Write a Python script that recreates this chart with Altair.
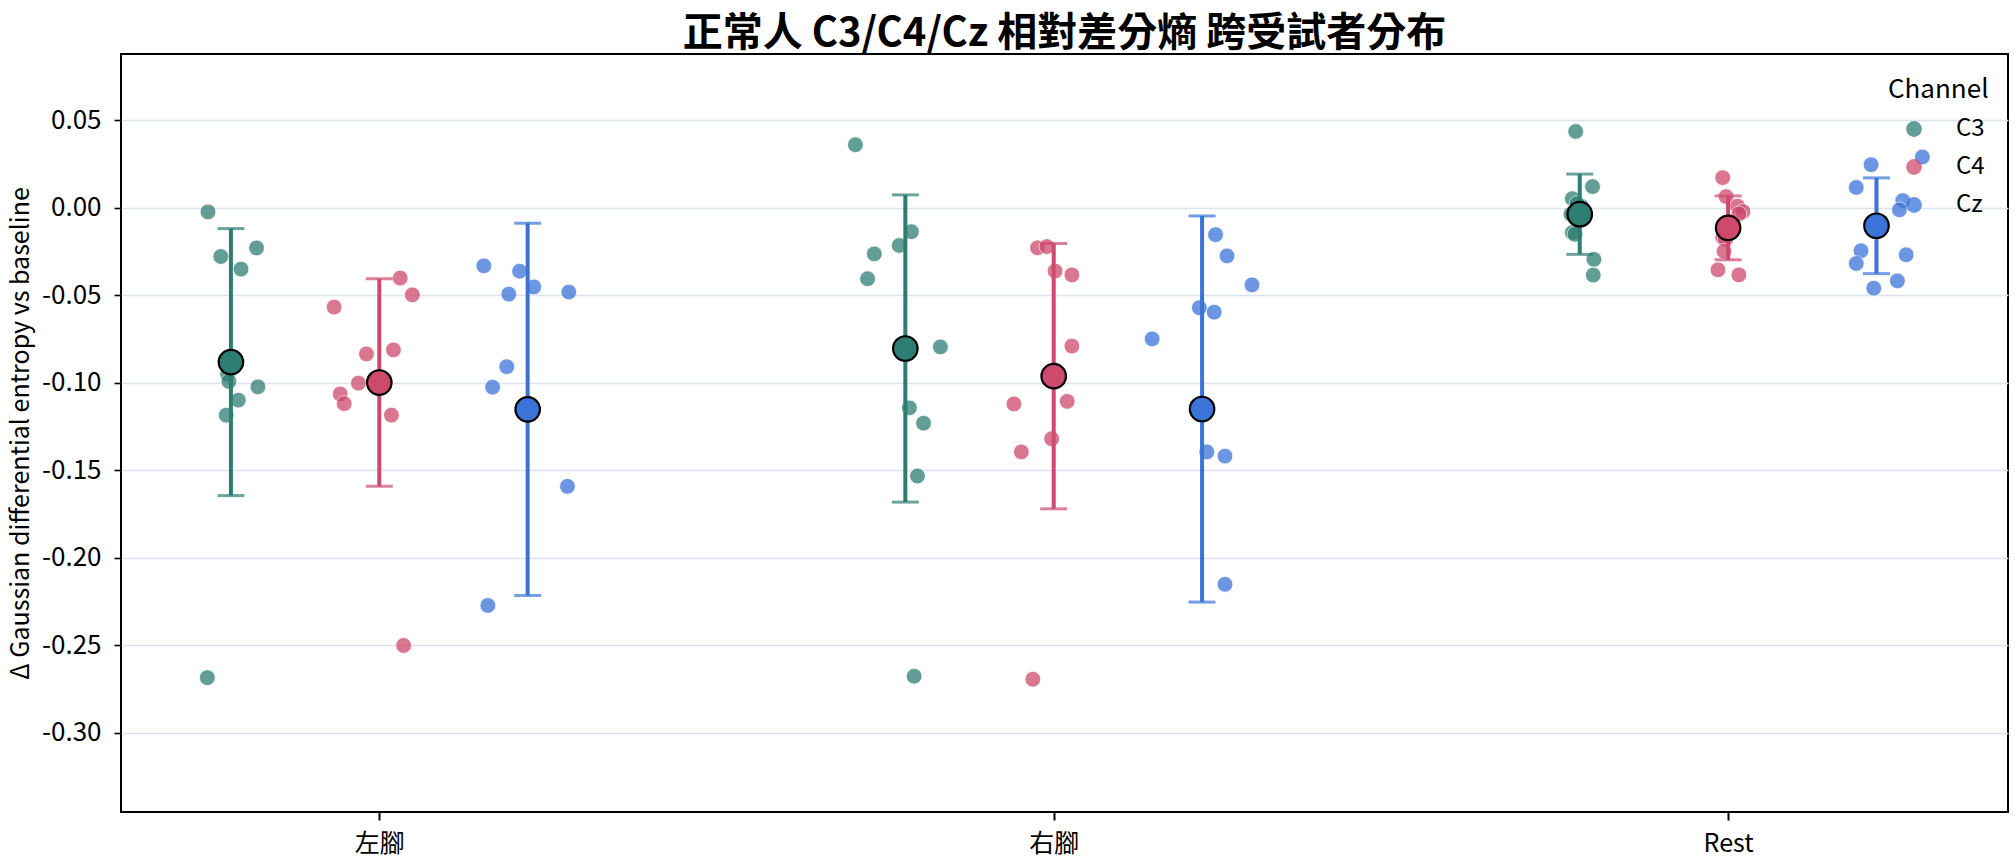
import altair as alt
import pandas as pd

# ---- categories ----
groups = ["左腳", "右腳", "Rest"]
channels = ["C3", "C4", "Cz"]
colors = ["#2e7d73", "#cd4a6d", "#3b74d9"]
chan_offset = [-0.22, 0.0, 0.22]

# ---- per-subject values (Δ differential entropy vs baseline) ----
left_c3 = [-0.0023, -0.0278, -0.0229, -0.0350, -0.0951, -0.0992, -0.1023, -0.1099, -0.1185, -0.2686]
left_c4 = [-0.0567, -0.0401, -0.0497, -0.0835, -0.0812, -0.1002, -0.1064, -0.1119, -0.1185, -0.2502]
left_cz = [-0.0331, -0.0362, -0.0452, -0.0493, -0.0481, -0.0908, -0.1025, -0.1592, -0.2273, -0.3600]
right_c3 = [0.0361, -0.0136, -0.0215, -0.0263, -0.0405, -0.0795, -0.1143, -0.1231, -0.1533, -0.2678]
right_c4 = [-0.0228, -0.0221, -0.0361, -0.0383, -0.0790, -0.1121, -0.1106, -0.1320, -0.1395, -0.2695]
right_cz = [-0.0749, -0.0153, -0.0274, -0.0440, -0.0571, -0.0596, -0.1395, -0.1419, -0.2152, -0.3750]
rest_c3 = [0.0437, 0.0122, 0.0053, -0.0036, -0.0141, -0.0151, -0.0294, -0.0384, 0.0010, 0.0024]
rest_c4 = [0.0173, 0.0065, 0.0010, -0.0021, -0.0034, -0.0168, -0.0180, -0.0248, -0.0354, -0.0383]
rest_cz = [0.0247, 0.0291, 0.0117, 0.0042, -0.0011, -0.0245, -0.0318, -0.0268, -0.0417, -0.0459]

# ---- horizontal jitter of each subject dot (category units) ----
left_c3_jit = [-0.034, -0.015, 0.038, 0.015, -0.005, -0.003, 0.040, 0.011, -0.007, -0.035]
left_c4_jit = [-0.067, 0.031, 0.049, -0.019, 0.021, -0.031, -0.058, -0.052, 0.018, 0.036]
left_cz_jit = [-0.065, -0.012, 0.009, -0.028, 0.061, -0.031, -0.052, 0.059, -0.059, 0.010]
right_c3_jit = [-0.074, 0.009, -0.009, -0.046, -0.056, 0.052, 0.006, 0.027, 0.018, 0.013]
right_c4_jit = [-0.024, -0.010, 0.002, 0.027, 0.027, -0.059, 0.020, -0.003, -0.048, -0.031]
right_cz_jit = [-0.074, 0.020, 0.037, 0.074, -0.004, 0.018, 0.007, 0.034, 0.034, -0.020]
rest_c3_jit = [-0.006, 0.019, -0.011, -0.013, -0.011, -0.007, 0.021, 0.020, 0.002, -0.004]
rest_c4_jit = [-0.008, -0.003, 0.014, 0.022, 0.016, -0.008, -0.004, -0.006, -0.015, 0.016]
rest_cz_jit = [-0.008, 0.068, -0.030, 0.039, 0.034, -0.023, -0.030, 0.044, 0.031, -0.004]

y_ticks = [-0.30, -0.25, -0.20, -0.15, -0.10, -0.05, 0.00, 0.05]

series = [
    ("左腳", "C3", left_c3, left_c3_jit), ("左腳", "C4", left_c4, left_c4_jit), ("左腳", "Cz", left_cz, left_cz_jit),
    ("右腳", "C3", right_c3, right_c3_jit), ("右腳", "C4", right_c4, right_c4_jit), ("右腳", "Cz", right_cz, right_cz_jit),
    ("Rest", "C3", rest_c3, rest_c3_jit), ("Rest", "C4", rest_c4, rest_c4_jit), ("Rest", "Cz", rest_cz, rest_cz_jit),
]

rows = []
for g, c, vals, jits in series:
    center = groups.index(g) + chan_offset[channels.index(c)]
    for v, j in zip(vals, jits):
        rows.append({"group": g, "channel": c, "value": v, "xc": center, "xp": center + j})
df = pd.DataFrame(rows)

summ = df.groupby(["group", "channel", "xc"], as_index=False).agg(mean=("value", "mean"), sd=("value", "std"))
summ["lo"] = summ["mean"] - summ["sd"]
summ["hi"] = summ["mean"] + summ["sd"]

FONT = "Noto Sans CJK TC"
xscale = alt.Scale(domain=[-0.383, 2.415], nice=False, zero=False)
yscale = alt.Scale(domain=[-0.3454, 0.088], nice=False, zero=False)
cscale = alt.Scale(domain=channels, range=colors)

label_expr = " : ".join(f"datum.value == {i} ? '{g}'" for i, g in enumerate(groups[:-1])) + f" : '{groups[-1]}'"

xaxis = alt.Axis(values=[0, 1, 2], labelExpr=label_expr, title=None, grid=False,
                 domain=False, tickSize=8, tickWidth=2, tickColor="black",
                 labelFontSize=25, labelFont=FONT, labelColor="black", labelPadding=11)
yaxis = alt.Axis(values=y_ticks, labelExpr="replace(format(datum.value, '.2f'), '\u2212', '-')",
                 title="Δ Gaussian differential entropy vs baseline",
                 grid=True, gridColor="#dbe4ee", gridWidth=1.6,
                 domain=False, tickSize=7, tickWidth=1.6, tickColor="black",
                 labelFontSize=26, labelFont=FONT, labelColor="black", labelPadding=13,
                 titleFontSize=25, titleFont=FONT, titleFontWeight="normal", titleColor="black",
                 titlePadding=8)

points = alt.Chart(df).mark_circle(size=250, opacity=0.75, stroke="white", strokeWidth=0.8, clip=True).encode(
    x=alt.X("xp:Q", scale=xscale, axis=xaxis),
    y=alt.Y("value:Q", scale=yscale, axis=yaxis),
    color=alt.Color("channel:N", scale=cscale,
                    legend=alt.Legend(title="Channel", orient="none", legendX=1767, legendY=23,
                                      padding=0, symbolType="circle", symbolSize=250,
                                      symbolOpacity=0.75, symbolStrokeWidth=0,
                                      symbolOffset=14, labelOffset=30,
                                      labelFontSize=24, labelFont=FONT, labelColor="black",
                                      titleFontSize=26, titleFont=FONT, titleFontWeight="normal",
                                      titleColor="black", titlePadding=14, titleLimit=400,
                                      rowPadding=14)),
)

base_s = alt.Chart(summ)
bars = base_s.mark_rule(strokeWidth=4).encode(
    x=alt.X("xc:Q", scale=xscale),
    y=alt.Y("lo:Q", scale=yscale),
    y2="hi:Q",
    color=alt.Color("channel:N", scale=cscale, legend=None),
)
cap_hi = base_s.mark_tick(orient="horizontal", size=27, thickness=3).encode(
    x=alt.X("xc:Q", scale=xscale),
    y=alt.Y("hi:Q", scale=yscale),
    color=alt.Color("channel:N", scale=cscale, legend=None),
)
cap_lo = base_s.mark_tick(orient="horizontal", size=27, thickness=3).encode(
    x=alt.X("xc:Q", scale=xscale),
    y=alt.Y("lo:Q", scale=yscale),
    color=alt.Color("channel:N", scale=cscale, legend=None),
)
means = base_s.mark_circle(size=600, opacity=1, stroke="black", strokeWidth=2.2).encode(
    x=alt.X("xc:Q", scale=xscale),
    y=alt.Y("mean:Q", scale=yscale),
    fill=alt.Fill("channel:N", scale=cscale, legend=None),
)

chart = alt.layer(points, bars, cap_hi, cap_lo, means).properties(
    width=1887, height=758,
    autosize=alt.AutoSizeParams(type="none"),
    padding={"left": 121, "top": 54, "right": 7, "bottom": 52},
    title=alt.Title("正常人 C3/C4/Cz 相對差分熵 跨受試者分布", fontSize=40, font=FONT,
                    fontWeight="bold", color="black", anchor="middle", offset=0),
    background="white",
).configure_view(stroke="black", strokeWidth=2)

chart.save("out.html", embed_options={"renderer": "svg", "actions": False})
